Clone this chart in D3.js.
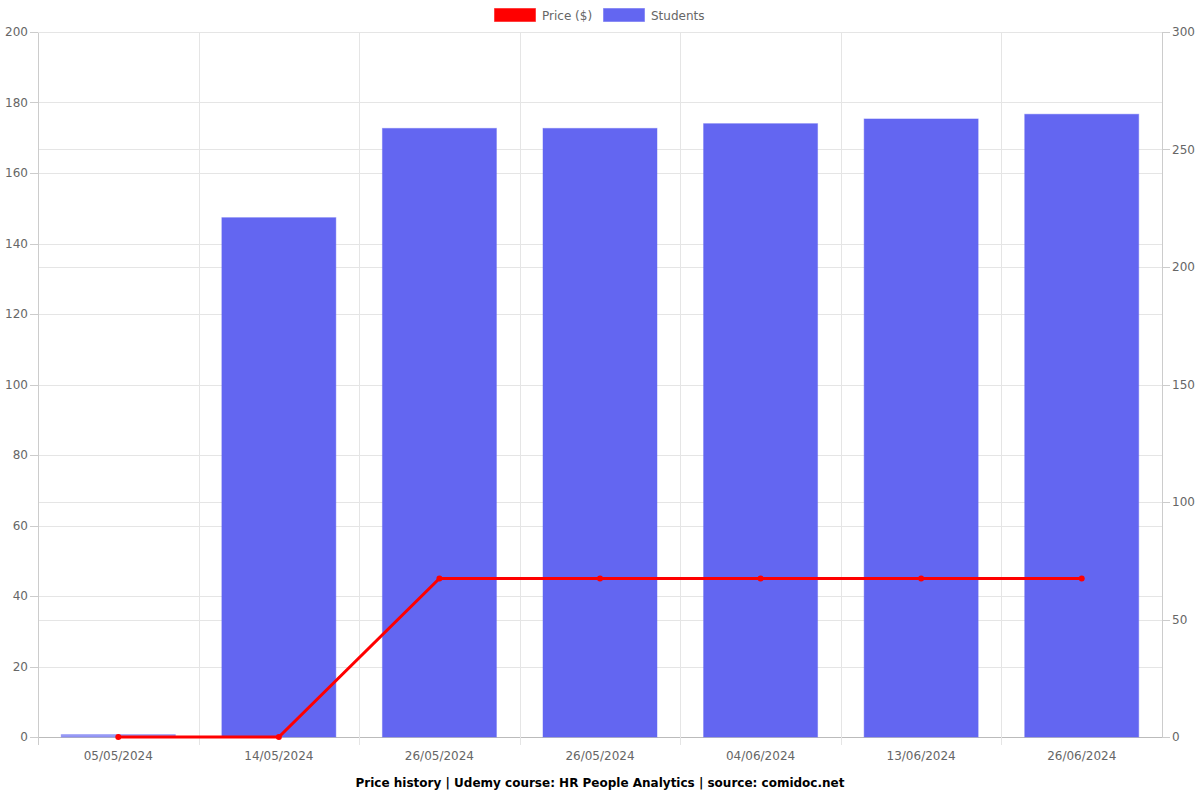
<!DOCTYPE html>
<html>
<head>
<meta charset="utf-8">
<script src="https://cdn.jsdelivr.net/npm/d3@7/dist/d3.min.js"></script>
<style>
  body { margin: 0; background: #fff; }
  text { font-family: "DejaVu Sans", sans-serif; }
</style>
</head>
<body>
<script>
// chart data
const dates = ["05/05/2024", "14/05/2024", "26/05/2024", "26/05/2024", "04/06/2024", "13/06/2024", "26/06/2024"];
const prices = [0, 0, 44.99, 44.99, 44.99, 44.99, 44.99];
const students = [1, 221, 259, 259, 261, 263, 265];
const leftTicks = [0, 20, 40, 60, 80, 100, 120, 140, 160, 180, 200];
const rightTicks = [0, 50, 100, 150, 200, 250, 300];

const width = 1200, height = 800;
const plotLeft = 38, plotRight = 1162, plotTop = 32, plotBottom = 737;

const svg = d3.select("body").append("svg")
    .attr("width", width)
    .attr("height", height);

// scales
const x = d3.scaleBand()
    .domain(d3.range(dates.length))
    .range([plotLeft, plotRight]);
const yL = d3.scaleLinear().domain([0, 200]).range([plotBottom, plotTop]);
const yR = d3.scaleLinear().domain([0, 300]).range([plotBottom, plotTop]);

// grid
const grid = svg.append("g");
grid.selectAll(".gl").data(leftTicks).enter().append("line")
    .attr("x1", plotLeft).attr("x2", plotRight)
    .attr("y1", d => Math.round(yL(d)) + 0.5).attr("y2", d => Math.round(yL(d)) + 0.5)
    .attr("stroke", d => d === 0 ? "#bbb" : "#e5e5e5");
grid.selectAll(".gr").data(rightTicks.filter(d => d > 0 && d < 300)).enter().append("line")
    .attr("x1", plotLeft).attr("x2", plotRight)
    .attr("y1", d => Math.round(yR(d)) + 0.5).attr("y2", d => Math.round(yR(d)) + 0.5)
    .attr("stroke", "#e5e5e5");
grid.selectAll(".gv").data(d3.range(1, dates.length)).enter().append("line")
    .attr("x1", d => Math.round(x(d)) + 0.5).attr("x2", d => Math.round(x(d)) + 0.5)
    .attr("y1", plotTop).attr("y2", plotBottom + 8)
    .attr("stroke", "#e5e5e5");

// axis frames
svg.append("line").attr("x1", plotLeft + 0.5).attr("x2", plotLeft + 0.5).attr("y1", plotTop).attr("y2", plotBottom + 8).attr("stroke", "#ccc");
svg.append("line").attr("x1", plotRight + 0.5).attr("x2", plotRight + 0.5).attr("y1", plotTop).attr("y2", plotBottom).attr("stroke", "#ccc");
svg.append("line").attr("x1", plotLeft).attr("x2", plotRight).attr("y1", plotTop + 0.5).attr("y2", plotTop + 0.5).attr("stroke", "#e5e5e5");

// left ticks
svg.selectAll(".tl").data(leftTicks).enter().append("line")
    .attr("x1", plotLeft - 8).attr("x2", plotLeft)
    .attr("y1", d => Math.round(yL(d)) + 0.5).attr("y2", d => Math.round(yL(d)) + 0.5)
    .attr("stroke", "#ccc");
svg.selectAll(".ll").data(leftTicks).enter().append("text")
    .attr("x", plotLeft - 10).attr("y", d => yL(d))
    .attr("dy", "0.35em")
    .attr("text-anchor", "end")
    .attr("font-size", 12).attr("fill", "#666")
    .text(d => d);

// right ticks
svg.selectAll(".tr").data(rightTicks).enter().append("line")
    .attr("x1", plotRight).attr("x2", plotRight + 8)
    .attr("y1", d => Math.round(yR(d)) + 0.5).attr("y2", d => Math.round(yR(d)) + 0.5)
    .attr("stroke", "#ccc");
svg.selectAll(".lr").data(rightTicks).enter().append("text")
    .attr("x", plotRight + 10).attr("y", d => yR(d))
    .attr("dy", "0.35em")
    .attr("font-size", 12).attr("fill", "#666")
    .text(d => d);

// x labels
svg.selectAll(".lx").data(dates).enter().append("text")
    .attr("x", (d, i) => x(i) + x.bandwidth() / 2)
    .attr("y", plotBottom + 23)
    .attr("text-anchor", "middle")
    .attr("font-size", 12).attr("fill", "#666")
    .text(d => d);

// bars (very short bars show mostly their lighter border)
const barW = x.bandwidth() * 0.71;
svg.selectAll(".bar").data(students).enter().append("rect")
    .attr("x", (d, i) => x(i) + (x.bandwidth() - barW) / 2)
    .attr("y", d => yR(d))
    .attr("width", barW)
    .attr("height", d => plotBottom - yR(d))
    .attr("fill", d => d < 5 ? "#9c9ef6" : "#6366f1")
    .attr("stroke", "rgba(99,102,241,0.45)")
    .attr("stroke-width", 1);

// price line
const line = d3.line()
    .x((d, i) => x(i) + x.bandwidth() / 2)
    .y(d => yL(d));
svg.append("path")
    .datum(prices)
    .attr("d", line)
    .attr("fill", "none")
    .attr("stroke", "#ff0000")
    .attr("stroke-width", 3);
svg.selectAll(".pt").data(prices).enter().append("circle")
    .attr("cx", (d, i) => x(i) + x.bandwidth() / 2)
    .attr("cy", d => yL(d))
    .attr("r", 3)
    .attr("fill", "#ff0000");

// legend
const legend = [
    { label: "Price ($)", color: "#ff0000", x: 494 },
    { label: "Students", color: "#6366f1", x: 603 }
];
legend.forEach(function (l) {
    svg.append("rect")
        .attr("x", l.x + 0.5).attr("y", 8.5)
        .attr("width", 41).attr("height", 13)
        .attr("fill", l.color)
        .attr("stroke", l.color === "#ff0000" ? "rgba(255,0,0,0.5)" : "rgba(99,102,241,0.5)");
    svg.append("text")
        .attr("x", l.x + 48).attr("y", 16)
        .attr("dy", "0.35em")
        .attr("font-size", 12).attr("fill", "#666")
        .text(l.label);
});

// title
svg.append("text")
    .attr("x", (plotLeft + plotRight) / 2).attr("y", 783)
    .attr("dy", "0.35em")
    .attr("text-anchor", "middle")
    .attr("font-size", 12).attr("font-weight", "bold").attr("fill", "#000")
    .text("Price history | Udemy course: HR People Analytics | source: comidoc.net");
</script>
</body>
</html>
